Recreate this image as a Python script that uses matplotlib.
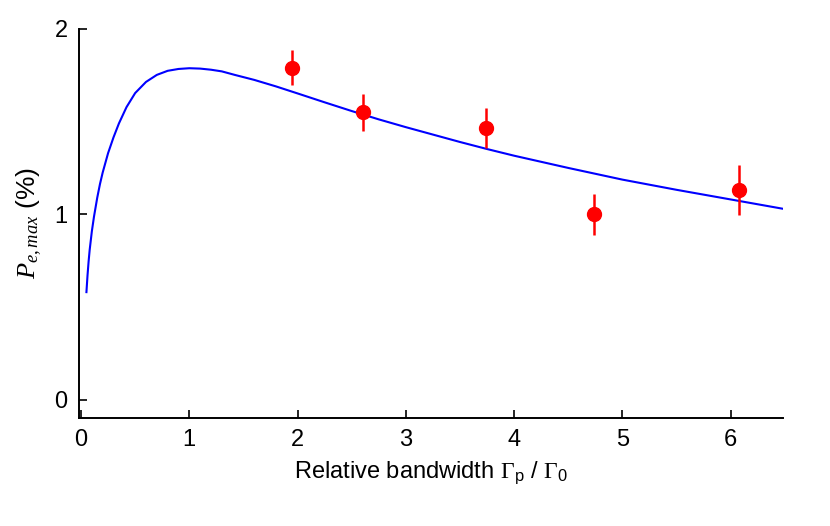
import matplotlib
matplotlib.use("Agg")
import matplotlib.pyplot as plt

# model curve
curve_x = [0.05, 0.06, 0.07, 0.08, 0.1, 0.12, 0.15, 0.175, 0.2, 0.25, 0.3, 0.35,
           0.42, 0.5, 0.6, 0.7, 0.8, 0.9, 1.0, 1.1, 1.2, 1.3, 1.42, 1.6, 1.8,
           2.0, 2.25, 2.5, 2.75, 3.0, 3.25, 3.5, 3.75, 4.0, 4.5, 5.0, 5.5, 6.0, 6.48]
curve_y = [0.58, 0.67, 0.745, 0.808, 0.908, 0.988, 1.09, 1.163, 1.225, 1.33, 1.415,
           1.49, 1.578, 1.654, 1.714, 1.752, 1.774, 1.784, 1.788, 1.786, 1.780,
           1.771, 1.752, 1.725, 1.69, 1.652, 1.604, 1.557, 1.512, 1.47, 1.43,
           1.39, 1.352, 1.316, 1.25, 1.187, 1.132, 1.08, 1.03]

# measurements
meas_x = [1.95, 2.6, 3.74, 4.74, 6.08]
meas_y = [1.79, 1.55, 1.465, 1.0, 1.13]
meas_err = [0.095, 0.10, 0.11, 0.11, 0.135]

plt.rcParams["font.family"] = ["Liberation Sans", "DejaVu Sans"]
plt.rcParams["mathtext.fontset"] = "custom"
plt.rcParams["mathtext.rm"] = "Liberation Serif"
plt.rcParams["mathtext.it"] = "Liberation Serif:italic"
plt.rcParams["mathtext.sf"] = "Liberation Sans"

fig = plt.figure(figsize=(8.3, 5.26), dpi=100)
ax = fig.add_axes([0.095, 0.205, 0.848, 0.74])

ax.plot(curve_x, curve_y, "-", color="#0000ff", linewidth=1.5)
ax.errorbar(meas_x, meas_y, yerr=meas_err, fmt="o", color="#ff0000",
            markersize=10, elinewidth=1.8, capsize=0)

ax.set_xlim(-0.02, 6.48)
ax.set_ylim(-0.1, 2.0)
ax.set_xticks([0, 1, 2, 3, 4, 5, 6])
ax.set_yticks([0, 1, 2])

for s in ["top", "right"]:
    ax.spines[s].set_visible(False)
for s in ["left", "bottom"]:
    ax.spines[s].set_linewidth(1.4)
ax.tick_params(direction="in", length=6, width=1.2, labelsize=17, pad=8)

ax.set_xlabel(r"Relative bandwidth $\mathrm{\Gamma}_{\mathsf{p}}$ / $\mathrm{\Gamma}_{\mathsf{0}}$",
              fontsize=17, labelpad=6)
ax.set_ylabel(r"$P_{e,max}$ (%)", fontsize=19, labelpad=8)

fig.savefig("out.png", dpi=100)
